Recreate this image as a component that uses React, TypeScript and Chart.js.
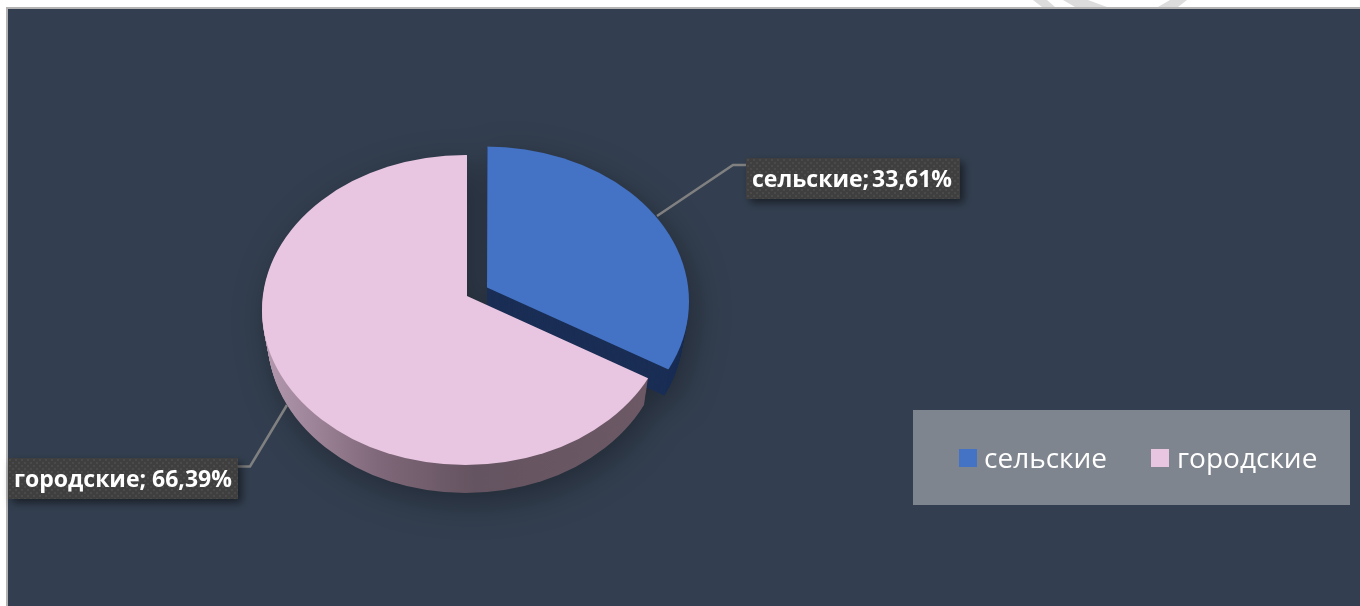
import React, { useEffect, useRef } from "react";
import { Chart, registerables } from "chart.js";

Chart.register(...registerables);

const categories = ["сельские", "городские"];
const shares = [33.61, 66.39];
const topColors = ["#4472c4", "#e8c5e0"];
const explode = [92, 0];
const FONT = '"Open Sans", "Noto Sans", sans-serif';

const TILT = 155 / 205;
const RX = 203.5;
const RY = 155;
const CENTER_DROP = 14;
const CENTER_SHIFT = -1.5;
const DEPTH = 28;
const SHRINK = 0.2;

const labelBoxes = [
  { x: 746, y: 158, w: 214, h: 41, tx: 752, ty: 187, line: [[657, 216], [733, 165], [746, 165]], spacing: "-3px" },
  { x: 8, y: 458, w: 230, h: 41, tx: 14, ty: 487, line: [[238, 466.5], [250, 466.5], [287, 405]], spacing: "0px" },
];

const paperMarks = [
  [1033, 1047, 1042, 1055],
  [1063, 1088, 1075, 1107],
  [1170, 1187, 1158, 1178],
];

function sideFill(c: CanvasRenderingContext2D, i: number) {
  if (i === 0) return "#1a2e55";
  const g = c.createLinearGradient(262, 0, 650, 0);
  g.addColorStop(0, "#b59ab0");
  g.addColorStop(0.3, "#7f6879");
  g.addColorStop(0.55, "#645360");
  g.addColorStop(1, "#6d5966");
  return g;
}

function paintArc(c: CanvasRenderingContext2D, el: any, drop: number) {
  const half = (el.startAngle + el.endAngle) / 2;
  const off = (el.options.offset || 0) / 4;
  const ox = Math.cos(half) * off;
  const oy = Math.sin(half) * off * TILT;
  c.save();
  c.beginPath();
  c.ellipse(
    el.x + ox + CENTER_SHIFT,
    el.y + oy + CENTER_DROP + drop,
    RX - drop * SHRINK,
    RY,
    0,
    0,
    Math.PI * 2
  );
  c.clip();
  c.translate(el.x, el.y + drop);
  c.scale(1, TILT);
  c.translate(-el.x, -el.y);
  el.draw(c);
  c.restore();
}

const piePlugin = {
  id: "tiltedPie",
  beforeDraw(chart: any) {
    const { ctx, width, height } = chart;
    ctx.save();
    ctx.fillStyle = "#ffffff";
    ctx.fillRect(0, 0, width, height);
    ctx.fillStyle = "#dcdcdc";
    paperMarks.forEach(([a, b, c, d]) => {
      ctx.beginPath();
      ctx.moveTo(a, 0);
      ctx.lineTo(b, 0);
      ctx.lineTo(d, 7);
      ctx.lineTo(c, 7);
      ctx.closePath();
      ctx.fill();
    });
    ctx.fillStyle = "#b3b3b3";
    ctx.fillRect(6, 7, width - 6, height - 7);
    ctx.fillStyle = "#333f50";
    ctx.fillRect(8, 9, width - 8, height - 9);
    ctx.restore();
  },
  beforeDatasetDraw(chart: any, args: any) {
    const dpr = chart.currentDevicePixelRatio || 1;
    const off = document.createElement("canvas");
    off.width = chart.canvas.width;
    off.height = chart.canvas.height;
    const c = off.getContext("2d") as CanvasRenderingContext2D;
    c.scale(dpr, dpr);
    const arcs = args.meta.data;
    arcs.forEach((el: any, i: number) => {
      const base = el.options;
      el.options = { ...base, backgroundColor: sideFill(c, i) };
      for (let d = DEPTH; d >= 1; d--) paintArc(c, el, d);
      el.options = base;
      paintArc(c, el, 0);
    });
    const { ctx } = chart;
    ctx.save();
    ctx.shadowColor = "rgba(0,0,0,0.32)";
    ctx.shadowBlur = 34;
    ctx.shadowOffsetX = 6;
    ctx.shadowOffsetY = 10;
    ctx.drawImage(off, 0, 0, chart.width, chart.height);
    ctx.restore();
    return false;
  },
  afterDatasetsDraw(chart: any) {
    const { ctx } = chart;
    const tile = document.createElement("canvas");
    tile.width = 6;
    tile.height = 6;
    const t = tile.getContext("2d") as CanvasRenderingContext2D;
    t.fillStyle = "#403f3f";
    t.fillRect(0, 0, 6, 6);
    t.fillStyle = "#4b4a4a";
    t.fillRect(0, 0, 2, 2);
    t.fillRect(3, 3, 2, 2);
    const pattern = ctx.createPattern(tile, "repeat");

    ctx.save();
    labelBoxes.forEach((b, i) => {
      ctx.strokeStyle = "#808080";
      ctx.lineWidth = 2.5;
      ctx.beginPath();
      b.line.forEach(([x, y], n) => (n ? ctx.lineTo(x, y) : ctx.moveTo(x, y)));
      ctx.stroke();

      ctx.save();
      ctx.shadowColor = "rgba(0,0,0,0.5)";
      ctx.shadowBlur = 8;
      ctx.shadowOffsetX = 4;
      ctx.shadowOffsetY = 4;
      ctx.fillStyle = pattern;
      ctx.fillRect(b.x, b.y, b.w, b.h);
      ctx.restore();

      const value = shares[i].toFixed(2).replace(".", ",");
      ctx.font = `700 23px ${FONT}`;
      ctx.fillStyle = "#ffffff";
      ctx.textBaseline = "alphabetic";
      ctx.textAlign = "left";
      (ctx as any).wordSpacing = b.spacing;
      ctx.fillText(`${chart.data.labels[i]}; ${value}%`, b.tx, b.ty);
      (ctx as any).wordSpacing = "0px";
    });

    ctx.fillStyle = "#7f858e";
    ctx.fillRect(913, 410, 437, 95);
    ctx.font = `400 28px ${FONT}`;
    ctx.textBaseline = "alphabetic";
    const items = [
      { sx: 959, tx: 984 },
      { sx: 1151, tx: 1177 },
    ];
    items.forEach((it, i) => {
      ctx.fillStyle = topColors[i];
      ctx.fillRect(it.sx, 449, 18, 18);
      ctx.fillStyle = "#ffffff";
      ctx.fillText(chart.data.labels[i], it.tx, 468);
    });
    ctx.restore();
  },
};

export default function App() {
  const ref = useRef<HTMLCanvasElement>(null);
  useEffect(() => {
    const chart = new Chart(ref.current as HTMLCanvasElement, {
      type: "pie",
      data: {
        labels: categories,
        datasets: [
          {
            data: shares,
            backgroundColor: topColors,
            borderWidth: 0,
            offset: explode,
          },
        ],
      },
      options: {
        responsive: false,
        animation: false,
        radius: 240,
        layout: { padding: { left: 0, top: 0, right: 426, bottom: 14 } },
        plugins: { legend: { display: false }, tooltip: { enabled: false } },
      } as any,
      plugins: [piePlugin as any],
    });
    return () => chart.destroy();
  }, []);
  return (
    <div style={{ position: "fixed", left: 0, top: 0, width: 1360, height: 606 }}>
      <canvas ref={ref} width={1360} height={606} style={{ display: "block" }} />
    </div>
  );
}
